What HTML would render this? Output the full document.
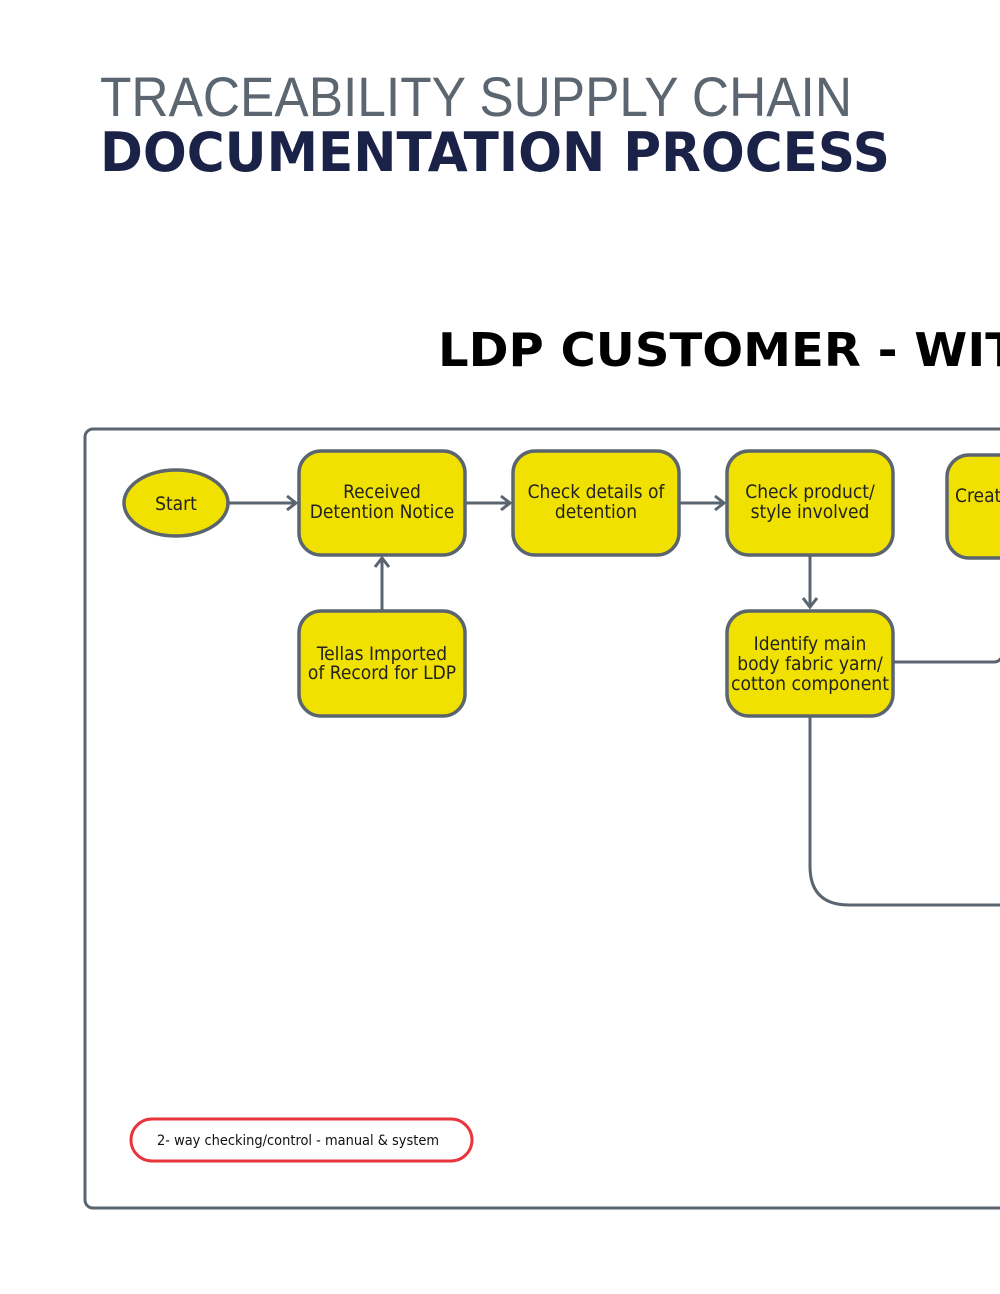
<!DOCTYPE html>
<html><head><meta charset="utf-8"><style>html,body{margin:0;padding:0;background:#fff;width:1000px;height:1294px;overflow:hidden}</style></head>
<body>
<svg width="1000" height="1294" viewBox="0 0 1000 1294" xmlns="http://www.w3.org/2000/svg" font-family="'DejaVu Sans','Liberation Sans',sans-serif">
<text x="100" y="116" font-size="56" fill="#5b6670" font-family="'Liberation Sans',sans-serif" textLength="752" lengthAdjust="spacingAndGlyphs">TRACEABILITY SUPPLY CHAIN</text>
<text x="100" y="171" font-size="54" font-weight="bold" fill="#1a2248" textLength="790" lengthAdjust="spacingAndGlyphs">DOCUMENTATION PROCESS</text>
<text x="438" y="366" font-size="46" font-weight="bold" fill="#000" textLength="580" lengthAdjust="spacingAndGlyphs">LDP CUSTOMER - WIT</text>
<rect x="85" y="429" width="940" height="779" rx="8" fill="none" stroke="#5a6570" stroke-width="3"/>
<g stroke="#5a6570" stroke-width="3" fill="none">
<line x1="229" y1="503" x2="296" y2="503"/><polyline points="287,496 296,503 287,510"/>
<line x1="466" y1="503" x2="510" y2="503"/><polyline points="501,496 510,503 501,510"/>
<line x1="680" y1="503" x2="724" y2="503"/><polyline points="715,496 724,503 715,510"/>
<line x1="382" y1="610" x2="382" y2="558"/><polyline points="375,567 382,558 389,567"/>
<line x1="810" y1="556" x2="810" y2="607"/><polyline points="803,598 810,607 817,598"/>
<path d="M894 662 H994 Q1000 662 1002 656"/>
<path d="M810 717 V866 Q810 905 849 905 H1002"/>
</g>
<g fill="#f0e100" stroke="#5a6570" stroke-width="3.5">
<ellipse cx="176" cy="503" rx="52" ry="33"/>
<rect x="299" y="451" width="166" height="104" rx="22"/>
<rect x="513" y="451" width="166" height="104" rx="22"/>
<rect x="727" y="451" width="166" height="104" rx="22"/>
<rect x="947" y="455" width="100" height="103" rx="22"/>
<rect x="299" y="611" width="166" height="105" rx="22"/>
<rect x="727" y="611" width="166" height="105" rx="22"/>
</g>
<g font-size="19" fill="#222" text-anchor="middle" font-family="'DejaVu Sans Condensed','DejaVu Sans',sans-serif">
<text x="176" y="510">Start</text>
<text x="382" y="498">Received</text><text x="382" y="518">Detention Notice</text>
<text x="596" y="498">Check details of</text><text x="596" y="518">detention</text>
<text x="810" y="498">Check product/</text><text x="810" y="518">style involved</text>
<text x="955" y="502" text-anchor="start">Creat</text>
<text x="382" y="660">Tellas  Imported</text><text x="382" y="679">of Record for LDP</text>
<text x="810" y="650">Identify main</text><text x="810" y="670">body fabric yarn/</text><text x="810" y="690" textLength="158" lengthAdjust="spacingAndGlyphs">cotton component</text>
</g>
<rect x="131" y="1119" width="341" height="42" rx="21" fill="none" stroke="#e8343a" stroke-width="3"/>
<text x="157" y="1145" font-size="14" fill="#111" font-family="'DejaVu Sans Condensed','DejaVu Sans',sans-serif" textLength="282" lengthAdjust="spacingAndGlyphs">2- way checking/control - manual &amp; system</text>
</svg>
</body></html>
